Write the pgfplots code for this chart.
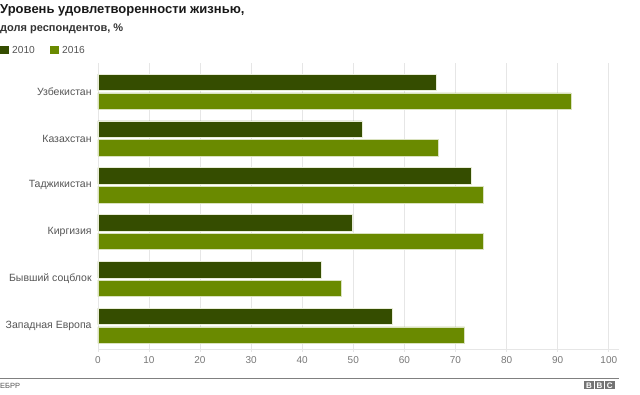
\documentclass[border=0pt]{standalone}
\usepackage{pgfplots}
\pgfplotsset{compat=1.18}
\usepackage{pgfplotstable}
\usepackage{fontspec}
\setmainfont{Liberation Sans}
\definecolor{darkg}{HTML}{354D00}
\definecolor{lightg}{HTML}{6A8A00}
\definecolor{txt}{HTML}{555555}
\definecolor{tick}{HTML}{777777}
\definecolor{grid}{HTML}{E6E6E6}
\pgfplotstableread{
idx v2010 v2016
0 66.2 92.6
1 51.7 66.6
2 73.1 75.4
3 49.7 75.4
4 43.8 47.7
5 57.6 71.8
}\data
\begin{document}
\begin{tikzpicture}
\path[use as bounding box] (0pt,0pt) rectangle (640pt,394pt);
\begin{axis}[
  at={(97.8pt,45pt)}, anchor=south west,
  scale only axis, width=521.2pt, height=286pt,
  xmin=0, xmax=102, ymin=-0.613, ymax=5.498,
  y dir=reverse,
  xtick={0,10,...,100},
  ytick={0,...,5},
  yticklabels={Узбекистан,Казахстан,Таджикистан,Киргизия,Бывший соцблок,Западная Европа},
  xmajorgrids, major grid style={draw=grid, line width=0.6pt},
  axis lines*=left,
  y axis line style={draw=none},
  x axis line style={draw=grid, line width=0.8pt, -},
  tick align=outside,
  major x tick style={draw=grid, line width=0.6pt},
  major tick length=3pt,
  major y tick style={draw=none},
  /pgf/number format/assume math mode=true,
  x tick label style={font=\fontsize{10}{12}\selectfont, text=tick, inner sep=0pt, anchor=north, yshift=-4pt},
  y tick label style={font=\fontsize{10.5}{12}\selectfont, text=txt, inner sep=0pt, anchor=east, xshift=-3pt},
  clip=false,
]
\addplot[xbar, bar width=16.5pt, bar shift=0pt, fill=darkg, draw=white!85!lightg, line width=0.5pt]
  table[x=v2010, y expr=\thisrow{idx}-0.2] {\data};
\addplot[xbar, bar width=16.5pt, bar shift=0pt, fill=lightg, draw=white!75!lightg, line width=0.5pt]
  table[x=v2016, y expr=\thisrow{idx}+0.2] {\data};
\end{axis}
% titles
\node[anchor=base west, inner sep=0pt, font=\bfseries\fontsize{13}{16}\selectfont, text=black!90] at (0pt,380.5pt) {Уровень удовлетворенности жизнью,};
\node[anchor=base west, inner sep=0pt, font=\bfseries\fontsize{11}{13}\selectfont, text=black!80] at (0pt,362.5pt) {доля респондентов, \%};
% legend
\fill[darkg] (0pt,339.5pt) rectangle (9pt,347.5pt);
\node[anchor=base west, inner sep=0pt, font=\fontsize{10.2}{12}\selectfont, text=txt] at (12pt,340pt) {2010};
\fill[lightg] (50pt,339.5pt) rectangle (59pt,347.5pt);
\node[anchor=base west, inner sep=0pt, font=\fontsize{10.2}{12}\selectfont, text=txt] at (62pt,340pt) {2016};
% footer
\draw[draw=black!50, line width=0.9pt] (0pt,15.5pt) -- (619pt,15.5pt);
\node[anchor=base west, inner sep=0pt, font=\fontsize{7.5}{9}\selectfont, text=txt] at (0pt,5.5pt) {ЕБРР};
\foreach \i/\l in {0/B,1/B,2/C}{
  \fill[black!55] ({584.3pt+\i*10.4pt},4.7pt) rectangle ({593.7pt+\i*10.4pt},12.7pt);
  \node[inner sep=0pt, font=\bfseries\fontsize{8}{10}\selectfont, text=white] at ({589pt+\i*10.4pt},8.7pt) {\l};
}
\end{tikzpicture}
\end{document}
